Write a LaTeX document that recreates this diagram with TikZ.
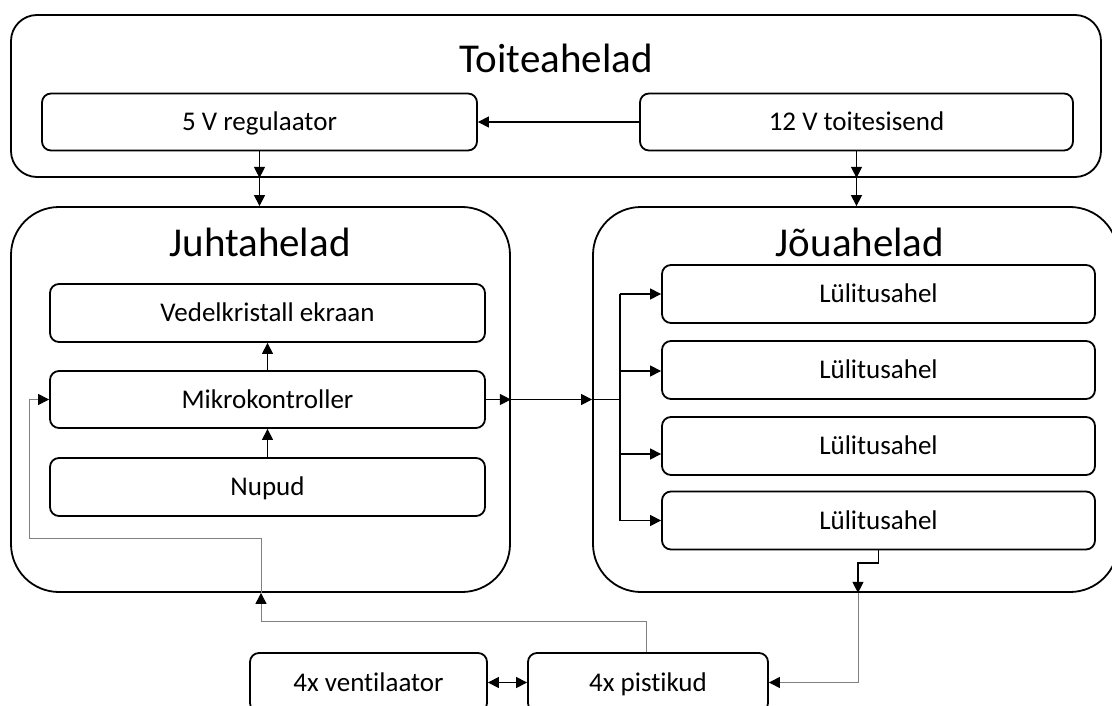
\documentclass[tikz,border=0pt]{standalone}
\usepackage{fontspec}
\setmainfont{Carlito}[Ligatures=NoCommon]
\usetikzlibrary{arrows.meta}

\begin{document}
\begin{tikzpicture}[x=1pt, y=-1pt,
	grp/.style  = {draw, rectangle, line width=1.8pt, rounded corners=48pt, minimum height=385pt},
	ttl/.style  = {anchor=base, font=\fontsize{41}{46}\selectfont},
	rec/.style  = {draw, rectangle, line width=1.8pt, rounded corners=9pt, inner sep=0pt,
	               text height=19.7pt, text depth=2.5pt,
	               font=\fontsize{27}{31}\selectfont, minimum width=435pt, minimum height=57pt},
	conn/.style = {line width=1.2pt, -{Triangle[length=11pt,width=11pt]}},
	gline/.style= {line width=1pt, black!50, -{Triangle[length=11pt,width=11pt,color=black]}},
	>={Triangle[length=11pt,width=11pt]}]
	
	\useasboundingbox (0,0) rectangle (1112,706);
	
	% the three groups
	\node[grp, rounded corners=26pt, minimum width=1090pt, minimum height=162pt] (toite) at (556,96) {};
	\node[grp, minimum width=499pt] (juht) at (260.5,399.5) {};
	\node[grp, minimum width=525pt] (jou) at (855.5,399.5) {};
	
	\node[ttl] (ttoite) at (556,73) {Toiteahelad};
	\node[ttl] (tjuht) at (260,256) {Juhtahelad};
	\node[ttl] (tjou) at (860,256) {Jõuahelad};
	
	% blocks
	\node[rec] (v5) at (259.5,122) {5 V regulaator};
	\node[rec, minimum width=433pt] (v12) at (856.5,122) {12 V toitesisend};
	
	\node[rec, minimum height=58pt] (ekraan) at (267.5,313) {Vedelkristall ekraan};
	\node[rec] (mikro) at (267.5,399.5) {Mikrokontroller};
	\node[rec, minimum height=58pt] (nupud) at (267.5,487) {Nupud};
	
	\begin{scope}[every node/.style={rec, minimum width=433pt, minimum height=58pt}]
	\node (l1) at (878.5,294) {Lülitusahel};
	\node (l2) at (878.5,370) {Lülitusahel};
	\node (l3) at (878.5,446) {Lülitusahel};
	\node (l4) at (878.5,520.5) {Lülitusahel};
	\end{scope}
	
	\node[rec, minimum width=237pt, minimum height=59pt] (vent) at (368.5,682.5) {4x ventilaator};
	\node[rec, minimum width=240pt, minimum height=59pt] (pist) at (648,682.5) {4x pistikud};
	
	% power lines
	\draw[conn] (v12) -- (v5);
	\draw[conn] (v5.south) -- (v5.south |- toite.south);
	\draw[conn] (v5.south |- toite.south) -- (v5.south |- juht.north);
	\draw[conn] (v12.south) -- (v12.south |- toite.south);
	\draw[conn] (v12.south |- toite.south) -- (v12.south |- jou.north);
	
	% control lines
	\draw[conn] (nupud) -- (mikro);
	\draw[conn] (mikro) -- (ekraan);
	\coordinate (bus) at (620,399.5);
	\draw[conn] (mikro.east) -- (mikro.east -| juht.east);
	\draw[conn] (mikro.east -| juht.east) -- (mikro.east -| jou.west);
	\draw[line width=1.2pt] (mikro.east -| jou.west) -- (bus);
	
	% from the bus to every switch
	\foreach \i/\dy in {1/0,2/-1,3/-8,4/0}{
		\coordinate (t\i) at ([yshift=\dy pt]l\i.west);
		\draw[conn] (bus |- t\i) -- (t\i);
	}
	\draw[line width=1.2pt] (bus |- t1) -- (bus |- t4);
	
	% outputs
	\coordinate (drop) at (858,563);
	\draw[conn] (l4.south) |- (drop) -- (drop |- jou.south);
	\draw[gline] (drop |- jou.south) |- (pist.east);
	\draw[conn, {Triangle[length=11pt,width=11pt]}-{Triangle[length=11pt,width=11pt]}] (vent) -- (pist);
	
	% feedback to the controller
	\coordinate (fb) at (261,621);
	\coordinate (fb2) at (29,538);
	\draw[gline] (pist.north -| 646,0) |- (fb) -- (fb |- juht.south);
	\draw[gline] (fb |- juht.south) |- (fb2) |- (mikro.west);
\end{tikzpicture}
\end{document}
